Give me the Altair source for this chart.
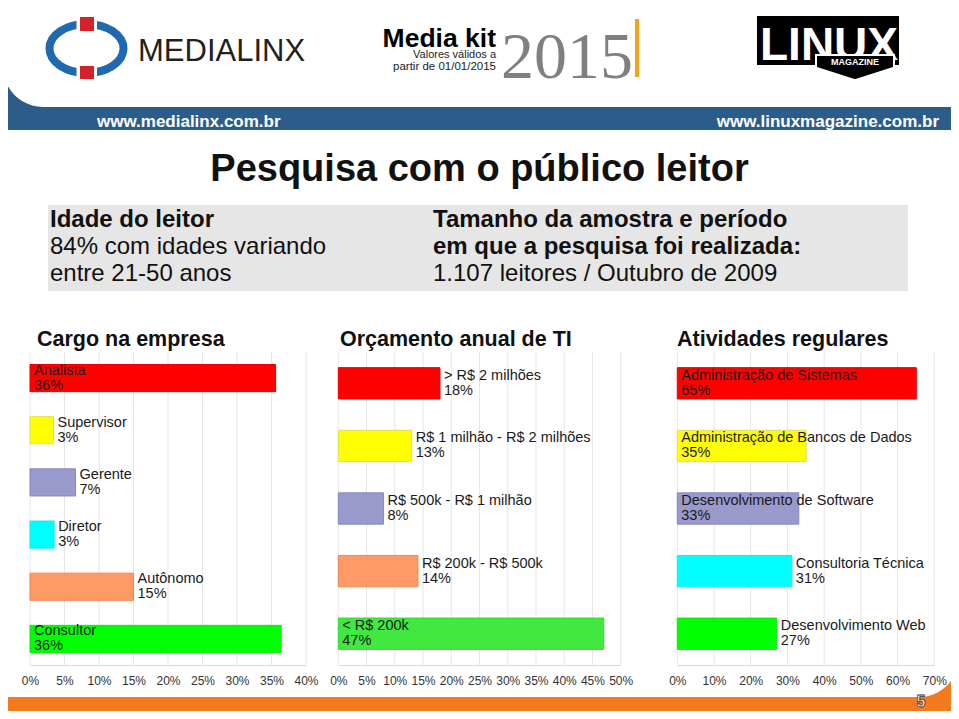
import altair as alt
import pandas as pd

FONT = "Liberation Sans"

# ---------------- data ----------------
cargo_cats = ["Analista", "Supervisor", "Gerente", "Diretor", "Autônomo", "Consultor"]
cargo_vals = [35.6, 3.4, 6.6, 3.5, 15.0, 36.4]
cargo_pct = [36, 3, 7, 3, 15, 36]
cargo_inside = [True, False, False, False, False, True]
cargo_ticks = [0, 5, 10, 15, 20, 25, 30, 35, 40]

orc_cats = ["> R$ 2 milhões", "R$ 1 milhão - R$ 2 milhões", "R$ 500k - R$ 1 milhão",
            "R$ 200k - R$ 500k", "< R$ 200k"]
orc_vals = [18.0, 13.0, 8.0, 14.1, 47.0]
orc_pct = [18, 13, 8, 14, 47]
orc_inside = [False, False, False, False, True]
orc_ticks = [0, 5, 10, 15, 20, 25, 30, 35, 40, 45, 50]

ativ_cats = ["Administração de Sistemas", "Administração de Bancos de Dados",
             "Desenvolvimento de Software", "Consultoria Técnica", "Desenvolvimento Web"]
ativ_vals = [65.1, 35.1, 33.1, 31.2, 27.1]
ativ_pct = [65, 35, 33, 31, 27]
ativ_inside = [True, True, True, False, False]
ativ_ticks = [0, 10, 20, 30, 40, 50, 60, 70]

title_main = "Pesquisa com o público leitor"
box_left = ["Idade do leitor", "84% com idades variando", "entre  21-50 anos"]
box_right = ["Tamanho da amostra e período", "em que a pesquisa foi realizada:",
             "1.107 leitores / Outubro de 2009"]
panel_titles = ["Cargo na empresa", "Orçamento anual de TI", "Atividades regulares"]
url_left = "www.medialinx.com.br"
url_right = "www.linuxmagazine.com.br"

# ---------------- styles ----------------
cargo_fill = ["#ff0000", "#ffff00", "#9999cc", "#00ffff", "#ff9966", "#00ff00"]
cargo_stroke = ["#e80000", "#e0e050", "#8888bb", "#20e8e8", "#ee8855", "#10e810"]
orc_fill = ["#ff0000", "#ffff00", "#9999cc", "#ff9966", "#40e840"]
orc_stroke = ["#e80000", "#e0e050", "#8888bb", "#ee8855", "#30d830"]
ativ_fill = ["#ff0000", "#ffff00", "#9999cc", "#00ffff", "#00ff00"]
ativ_stroke = ["#e80000", "#e0e050", "#8888bb", "#20e8e8", "#10e810"]

one = pd.DataFrame({"d": [0]})


def rect(x, x2, y, y2, color, **kw):
    return alt.Chart(one).mark_rect(color=color, **kw).encode(
        x=alt.value(x), x2=alt.value(x2), y=alt.value(y), y2=alt.value(y2))


def txt(s, x, y, size, **kw):
    kw.setdefault("font", FONT)
    kw.setdefault("color", "#111111")
    kw.setdefault("baseline", "alphabetic")
    return alt.Chart(one).mark_text(text=s, fontSize=size, **kw).encode(
        x=alt.value(x), y=alt.value(y))


def panel(cats, vals, pcts, inside, ticks, dmax, xr, pad_in, fills, strokes):
    df = pd.DataFrame({
        "cat": cats,
        "v": vals,
        "label": [f"{c}\n{p}%" for c, p in zip(cats, pcts)],
        "xl": [0 if i else v for i, v in zip(inside, vals)],
    })
    sx = alt.Scale(domain=[0, dmax], range=xr, nice=False, zero=True)
    sy = alt.Scale(domain=cats, range=[344, 657], paddingInner=pad_in, paddingOuter=pad_in / 2)
    grid = alt.Chart(pd.DataFrame({"t": ticks})).mark_rule(color="#e6e6e6", strokeWidth=1).encode(
        x=alt.X("t:Q", scale=sx, axis=None), y=alt.value(344), y2=alt.value(657))
    bars = alt.Chart(df).mark_bar(strokeWidth=1).encode(
        x=alt.X("v:Q", scale=sx, title=None,
                axis=alt.Axis(values=ticks, labelExpr="datum.value + '%'", orient="bottom",
                              grid=False, ticks=False, domain=True, domainColor="#d8d8d8",
                              labelFont=FONT, labelFontSize=12, labelColor="#333333",
                              labelPadding=10, labelFlush=False, labelOverlap=False,
                              zindex=2)),
        y=alt.Y("cat:N", scale=sy, sort=cats, axis=None),
        color=alt.Color("cat:N", scale=alt.Scale(domain=cats, range=fills), legend=None),
        stroke=alt.Stroke("cat:N", scale=alt.Scale(domain=cats, range=strokes), legend=None),
    )
    labels = alt.Chart(df).mark_text(align="left", baseline="middle", dx=4, dy=-7.5,
                                     fontSize=14.5, lineHeight=15, lineBreak="\n", font=FONT,
                                     color="#1a1a1a").encode(
        x=alt.X("xl:Q", scale=sx, axis=None),
        y=alt.Y("cat:N", scale=sy, sort=cats, axis=None),
        text="label:N")
    return [grid, bars, labels]


layers = []
# background bands
layers.append(rect(-10, 960, 52, 122, "#2c5d8a"))
layers.append(rect(-5, 960, -20, 99, "white", cornerRadiusBottomLeft=40))
layers.append(rect(-10, 960, 632, 720, "#f47a20"))
layers.append(rect(-20, 951, 123, 689, "white", cornerRadiusBottomRight=40))
layers.append(rect(40, 900, 197, 283, "#e6e6e6"))

# Medialinx logo
ellipse = "M -1.51 0 A 1.51 1 0 1 0 1.51 0 A 1.51 1 0 1 0 -1.51 0 Z"
layers.append(alt.Chart(one).mark_point(shape=ellipse, size=2401, filled=False, color="#1f69b1",
                                        strokeWidth=8, opacity=1).encode(
    x=alt.value(78.5), y=alt.value(40.5)))
layers.append(rect(68.5, 89, 5, 26, "white"))
layers.append(rect(68.5, 89, 55, 75, "white"))
layers.append(rect(72, 86, 9, 23, "#d2232a"))
layers.append(rect(72, 86, 58, 71, "#d2232a"))
layers.append(txt("MEDIALINX", 130, 53, 31, align="left", color="#231f20"))

# Media kit
layers.append(txt("Media kit", 488, 39, 26.5, align="right", fontWeight="bold", color="black"))
layers.append(txt("Valores válidos a", 488, 50, 11, align="right", color="#222222"))
layers.append(txt("partir de 01/01/2015", 488, 62, 11.5, align="right", color="#222222"))
layers.append(txt("2015", 493, 70, 66, align="left", font="Liberation Serif", color="#808080"))
layers.append(rect(627, 631, 11, 69, "#f7a21b"))

# Linux Magazine logo
layers.append(rect(749, 891, 8, 57, "black"))
layers.append(txt("LINUX", 821, 52, 46, align="center", fontWeight="bold", color="white"))
pent = "M -0.975 -0.3 L 0.975 -0.3 L 0.975 0.02 L 0 0.33 L -0.975 0.02 Z"
layers.append(alt.Chart(one).mark_point(shape=pent, size=6400, filled=True, fill="black",
                                        stroke="white", strokeWidth=2, opacity=1).encode(
    x=alt.value(847), y=alt.value(59)))
layers.append(txt("MAGAZINE", 847, 54.3, 9, align="center", baseline="middle",
                  fontWeight="bold", color="white"))

# URLs
layers.append(txt(url_left, 89, 118.5, 17, align="left", fontWeight="bold", color="white"))
layers.append(txt(url_right, 931, 118.5, 17, align="right", fontWeight="bold", color="white"))

# Title and info box
layers.append(txt(title_main, 471.5, 173, 38, align="center", fontWeight="bold", color="#111111"))
for i, (s, w) in enumerate(zip(box_left, ["bold", "normal", "normal"])):
    layers.append(txt(s, 42, 219 + 27 * i, 24, align="left", fontWeight=w))
for i, (s, w) in enumerate(zip(box_right, ["bold", "bold", "normal"])):
    layers.append(txt(s, 425, 219 + 27 * i, 24, align="left", fontWeight=w))

# panel titles
for s, x in zip(panel_titles, [29, 332, 669]):
    layers.append(txt(s, x, 338, 21.5, align="left", fontWeight="bold"))

# panels
layers += panel(cargo_cats, cargo_vals, cargo_pct, cargo_inside, cargo_ticks, 40,
                [22, 298], 0.48, cargo_fill, cargo_stroke)
layers += panel(orc_cats, orc_vals, orc_pct, orc_inside, orc_ticks, 50,
                [330.3, 612.7], 0.5, orc_fill, orc_stroke)
layers += panel(ativ_cats, ativ_vals, ativ_pct, ativ_inside, ativ_ticks, 70,
                [669.3, 926.3], 0.5, ativ_fill, ativ_stroke)

# page number
layers.append(txt("5", 913, 694, 16, align="center", baseline="middle", fontWeight="bold",
                  color="white", stroke="#333333", strokeWidth=0.8))

chart = alt.layer(*layers).resolve_scale(
    x="independent", y="independent", color="independent", stroke="independent"
).properties(
    width=943, height=657,
    padding={"left": 0, "top": 0, "right": 0, "bottom": 46},
    autosize=alt.AutoSizeParams(type="none"),
).configure_view(strokeWidth=0)

chart.save("out.html", embed_options={"renderer": "svg", "actions": False})
